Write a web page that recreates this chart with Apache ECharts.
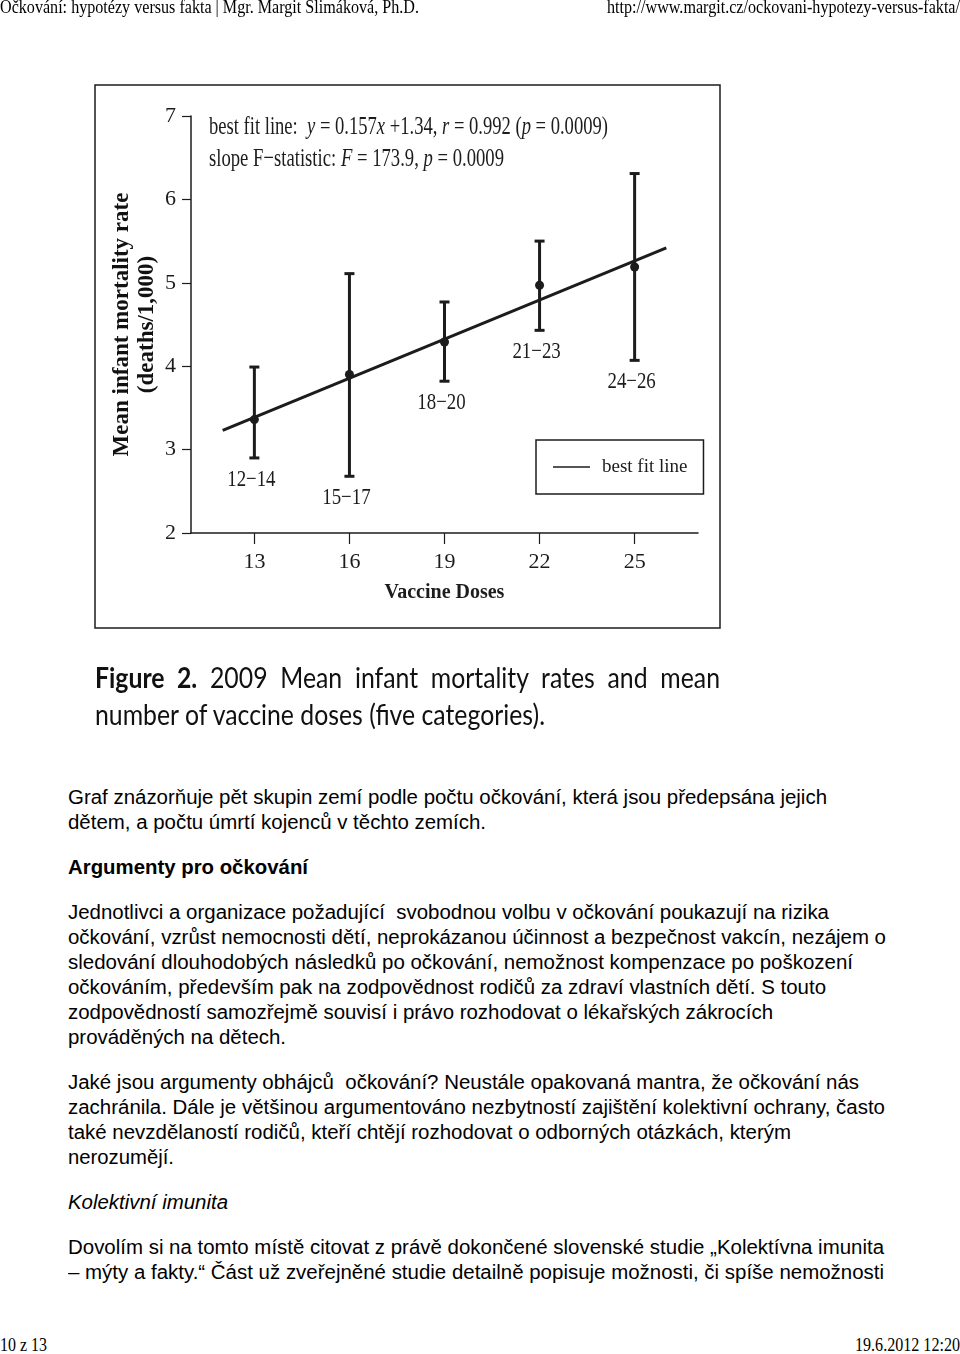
<!DOCTYPE html>
<html><head><meta charset="utf-8">
<script src="https://cdn.jsdelivr.net/npm/echarts@6/dist/echarts.min.js"></script>
<style>
html,body{margin:0;padding:0;background:#fff;width:960px;height:1354px;overflow:hidden;position:relative}
#chart{position:absolute;left:0;top:0;width:960px;height:760px}
.t{position:absolute;white-space:pre;transform-origin:0 50%;color:#000;line-height:1}
.serif{font-family:"Liberation Serif","Times New Roman",serif}
.sans{font-family:"Liberation Sans",Arial,sans-serif}
.cap{font-family:Lato,"Open Sans",sans-serif;color:#111}
</style></head><body>
<div id="chart"></div>
<div id="page"></div>
<script>
// ---- chart data ----
const doseGroups = ['12−14','15−17','18−20','21−23','24−26'];
const doseX      = [13, 16, 19, 22, 25];
const meanRate   = [3.36, 3.90, 4.29, 4.97, 5.19];
const lowRate    = [2.90, 2.68, 3.82, 4.43, 4.07];
const highRate   = [3.99, 5.11, 4.77, 5.50, 6.31];
const fitX       = [12, 26];
const fitY       = [3.23, 5.42];
const xTicks     = [13, 16, 19, 22, 25];

// ---- page text ----
const headerLeft  = 'Očkování: hypotézy versus fakta | Mgr. Margit Slimáková, Ph.D.';
const headerRight = 'http://www.margit.cz/ockovani-hypotezy-versus-fakta/';
const footerLeft  = '10 z 13';
const footerRight = '19.6.2012 12:20';
const bodyLines = [
  'Graf znázorňuje pět skupin zemí podle počtu očkování, která jsou předepsána jejich',
  'dětem, a počtu úmrtí kojenců v těchto zemích.',
  'Argumenty pro očkování',
  'Jednotlivci a organizace požadující  svobodnou volbu v očkování poukazují na rizika',
  'očkování, vzrůst nemocnosti dětí, neprokázanou účinnost a bezpečnost vakcín, nezájem o',
  'sledování dlouhodobých následků po očkování, nemožnost kompenzace po poškození',
  'očkováním, především pak na zodpovědnost rodičů za zdraví vlastních dětí. S touto',
  'zodpovědností samozřejmě souvisí i právo rozhodovat o lékařských zákrocích',
  'prováděných na dětech.',
  'Jaké jsou argumenty obhájců  očkování? Neustále opakovaná mantra, že očkování nás',
  'zachránila. Dále je většinou argumentováno nezbytností zajištění kolektivní ochrany, často',
  'také nevzdělaností rodičů, kteří chtějí rozhodovat o odborných otázkách, kterým',
  'nerozumějí.',
  'Kolektivní imunita',
  'Dovolím si na tomto místě citovat z právě dokončené slovenské studie „Kolektívna imunita',
  '– mýty a fakty.“ Část už zveřejněné studie detailně popisuje možnosti, či spíše nemožnosti'
];
const bodyLayout = [ // [right edge, center y, style]
  [827,797,''],[486,822,''],[308,867,'b'],[829,912,''],[886,937,''],[853,962,''],
  [826,987,''],[773,1012,''],[286,1037,''],[859,1082,''],[885,1107,''],[791,1132,''],
  [174,1157,''],[228,1202,'i'],[884,1247,''],[884,1272,'']
];

const page = document.getElementById('page');
function addLine(text, cls, size, x0, x1, cy, extra){
  const d = document.createElement('div');
  d.className = 't ' + cls;
  d.textContent = text;
  d.style.fontSize = size + 'px';
  d.style.left = x0 + 'px';
  d.style.top = (cy - size/2) + 'px';
  if (extra === 'b') d.style.fontWeight = 'bold';
  if (extra === 'i') d.style.fontStyle = 'italic';
  page.appendChild(d);
  d._target = x1 - x0;
  return d;
}
const fitEls = [];
fitEls.push(addLine(headerLeft,'serif',18,0,419,7));
fitEls.push(addLine(headerRight,'serif',18,607,960,7));
fitEls.push(addLine(footerLeft,'serif',18,0,47,1345));
fitEls.push(addLine(footerRight,'serif',18,855,960,1345));
bodyLines.forEach((s,i)=>{
  const L = bodyLayout[i];
  fitEls.push(addLine(s,'sans',20,68,L[0],L[1],L[2]));
});
// caption
const cap1 = document.createElement('div');
cap1.className = 't cap';
cap1.innerHTML = '<b>Figure 2.</b> 2009 Mean infant mortality rates and mean';
cap1.style.fontSize = '28px'; cap1.style.left = '95px'; cap1.style.top = (677-14)+'px';
page.appendChild(cap1);
const cap2 = document.createElement('div');
cap2.className = 't cap';
cap2.textContent = 'number of vaccine doses (five categories).';
cap2.style.fontSize = '28px'; cap2.style.left = '95px'; cap2.style.top = (714-14)+'px';
page.appendChild(cap2);

function layoutText(){
  fitEls.forEach(d=>{
    const w = d.getBoundingClientRect().width;
    if (w > 0) d.style.transform = 'scaleX(' + (d._target / w) + ')';
  });
  const w2 = cap2.getBoundingClientRect().width;
  const k = 450 / w2;
  cap2.style.transform = 'scaleX(' + k + ')';
  cap1.style.width = (625 / k) + 'px';
  cap1.style.whiteSpace = 'normal';
  cap1.style.textAlign = 'justify';
  cap1.style.textAlignLast = 'justify';
  cap1.style.transform = 'scaleX(' + k + ')';
}
layoutText();

// ---- chart ----
const SERIF = '"Liberation Serif","Times New Roman",serif';
const INK = '#1c1c1c';
function measure(text, font){
  const c = document.createElement('canvas').getContext('2d');
  c.font = font; return c.measureText(text).width;
}
const ann1Plain = 'best fit line:  y = 0.157x +1.34, r = 0.992 (p = 0.0009)';
const ann2Plain = 'slope F−statistic: F = 173.9, p = 0.0009';
const annSize = 26;
const annFont = annSize + 'px "Liberation Serif"';
const k1 = 400 / measure(ann1Plain, annFont);
const k2 = 294 / measure(ann2Plain, annFont);
const richStyles = {
  n:{fontFamily:SERIF,fontSize:annSize,fill:INK},
  i:{fontFamily:SERIF,fontSize:annSize,fontStyle:'italic',fill:INK}
};

const errData = doseX.map((x,i)=>[x, meanRate[i], lowRate[i], highRate[i], doseGroups[i]]);
const fitData = fitX.map((x,i)=>[x, fitY[i]]);

const chart = echarts.init(document.getElementById('chart'), null, {renderer:'canvas'});
chart.setOption({
  animation:false,
  backgroundColor:'transparent',
  grid:{left:191, right:262, top:116, bottom:227, containLabel:false, outerBoundsMode:'none'},
  xAxis:{
    type:'value', min:11, max:27,
    name:'Vaccine Doses', nameLocation:'middle', nameGap:50, nameMoveOverlap:false,
    nameTextStyle:{fontFamily:SERIF, fontWeight:'bold', fontSize:20, color:INK},
    axisLine:{show:true, onZero:false, lineStyle:{color:INK, width:1.5}},
    axisTick:{show:true, length:11, lineStyle:{color:INK, width:1.2}, customValues:xTicks},
    axisLabel:{fontFamily:SERIF, fontSize:22, color:INK, margin:18, customValues:xTicks},
    splitLine:{show:false}
  },
  yAxis:{
    type:'value', min:2, max:7, interval:1,
    name:'Mean infant mortality rate\n(deaths/1,000)', nameLocation:'middle', nameRotate:90, nameGap:31, nameMoveOverlap:false,
    nameTextStyle:{fontFamily:SERIF, fontWeight:'bold', fontSize:23, lineHeight:25, color:'#111'},
    axisLine:{show:true, onZero:false, lineStyle:{color:INK, width:1.5}},
    axisTick:{show:true, length:9, lineStyle:{color:INK, width:1.2}},
    axisLabel:{fontFamily:SERIF, fontSize:22, color:INK, margin:15},
    splitLine:{show:false}
  },
  legend:{
    data:['best fit line'], left:536, top:440, selectedMode:false,
    padding:[17,16,17,17], borderColor:INK, borderWidth:1.5,
    icon:'rect', itemWidth:37, itemHeight:2,
    itemStyle:{color:'#555'},
    textStyle:{fontFamily:SERIF, fontSize:19, lineHeight:20, color:INK, padding:[0,0,0,7]}
  },
  graphic:[
    {type:'rect', shape:{x:95, y:85, width:625, height:543}, style:{fill:'none', stroke:INK, lineWidth:1.5}, silent:true},
    {type:'text', x:209, y:127, scaleX:k1, style:{
      text:'{n|best fit line:  }{i|y}{n| = 0.157}{i|x}{n| +1.34, }{i|r}{n| = 0.992 (}{i|p}{n| = 0.0009)}',
      rich:richStyles, verticalAlign:'middle'}},
    {type:'text', x:209, y:159, scaleX:k2, style:{
      text:'{n|slope F−statistic: }{i|F}{n| = 173.9, }{i|p}{n| = 0.0009}',
      rich:richStyles, verticalAlign:'middle'}}
  ],
  series:[
    {
      name:'best fit line', type:'line', data:fitData, symbol:'none',
      lineStyle:{color:INK, width:3}, itemStyle:{color:INK}, z:3
    },
    {
      name:'groups', type:'custom', data:errData, z:4,
      encode:{x:0, y:[1,2,3]},
      renderItem:function(params, api){
        const x = api.value(0);
        const pM = api.coord([x, api.value(1)]);
        const pL = api.coord([x, api.value(2)]);
        const pH = api.coord([x, api.value(3)]);
        const cw = 5;
        const st = {stroke:INK, lineWidth:3};
        return {type:'group', children:[
          {type:'line', shape:{x1:pL[0], y1:pL[1], x2:pH[0], y2:pH[1]}, style:st},
          {type:'line', shape:{x1:pH[0]-cw, y1:pH[1], x2:pH[0]+cw, y2:pH[1]}, style:st},
          {type:'line', shape:{x1:pL[0]-cw, y1:pL[1], x2:pL[0]+cw, y2:pL[1]}, style:st},
          {type:'circle', shape:{cx:pM[0], cy:pM[1], r:4.5}, style:{fill:INK}},
          {type:'text', x:pL[0]-3, y:pL[1]+22, scaleX:0.82, style:{
            text: api.value(4), fontFamily:SERIF, fontSize:23, fill:INK,
            align:'center', verticalAlign:'middle'}}
        ]};
      }
    }
  ]
});
</script>
</body></html>
